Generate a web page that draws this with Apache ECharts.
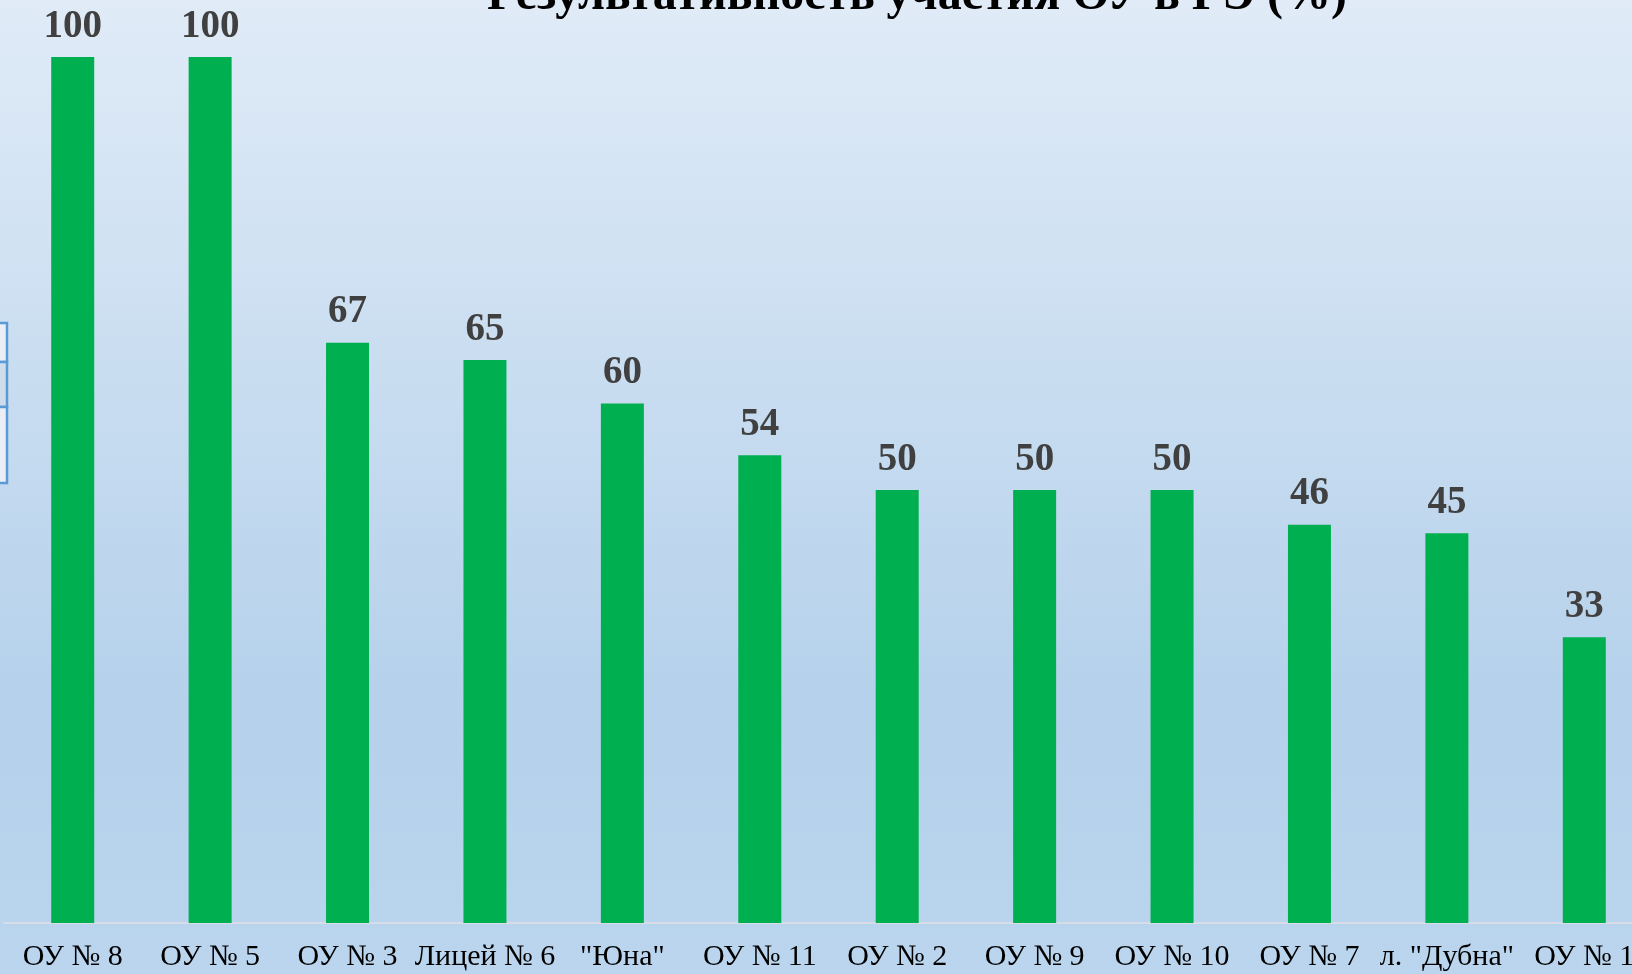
<!DOCTYPE html>
<html>
<head>
<meta charset="utf-8">
<style>
  html, body { margin: 0; padding: 0; overflow: hidden; width: 1632px; height: 974px; }
  #chart { width: 1660px; height: 974px; }
</style>
<script src="https://cdn.jsdelivr.net/npm/echarts@6/dist/echarts.min.js"></script>
</head>
<body>
<div id="chart"></div>
<script>
// Schools (categories) and their exam success rate, %
const categories = ['ОУ № 8', 'ОУ № 5', 'ОУ № 3', 'Лицей № 6', '"Юна"', 'ОУ № 11',
                    'ОУ № 2', 'ОУ № 9', 'ОУ № 10', 'ОУ № 7', 'л. "Дубна"', 'ОУ № 1'];
const results = [100, 100, 67, 65, 60, 54, 50, 50, 50, 46, 45, 33];
const titleText = 'Результативность участия ОУ в ГЭ (%)';

const chart = echarts.init(document.getElementById('chart'));
const serif = '"Liberation Serif", "Times New Roman", serif';

chart.setOption({
  backgroundColor: new echarts.graphic.LinearGradient(0, 0, 0, 1, [
    { offset: 0, color: '#e0ebf7' },
    { offset: 0.72, color: '#b5d1eb' },
    { offset: 1, color: '#bad5ed' }
  ]),
  title: {
    text: titleText,
    left: 912,
    textAlign: 'center',
    top: -32,
    textStyle: { fontFamily: serif, fontWeight: 'bold', fontSize: 48, color: '#000' }
  },
  grid: { left: 4, top: 57, right: 7, bottom: 51, containLabel: false },
  xAxis: {
    type: 'category',
    data: categories,
    axisLine: { lineStyle: { color: '#d6dde6', width: 2 } },
    axisTick: { show: false },
    axisLabel: {
      interval: 0, margin: 19, color: '#000',
      fontFamily: serif, fontSize: 30
    }
  },
  yAxis: {
    type: 'value', min: 0, max: 100,
    show: false
  },
  series: [{
    type: 'bar',
    data: results,
    barWidth: 43,
    itemStyle: { color: '#00b050' },
    label: {
      show: true, position: 'top', distance: 11,
      fontFamily: serif, fontWeight: 'bold', fontSize: 39, color: '#404040'
    }
  }],
  graphic: [
    // partial table edge at the left margin
    { type: 'rect', shape: { x: -20, y: 323, width: 27, height: 39 },
      style: { fill: '#e9eef7', stroke: '#5b9bd5', lineWidth: 2.5 } },
    { type: 'rect', shape: { x: -20, y: 362, width: 27, height: 45 },
      style: { fill: '#cfdcec', stroke: '#5b9bd5', lineWidth: 2.5 } },
    { type: 'rect', shape: { x: -20, y: 407, width: 27, height: 76 },
      style: { fill: '#e9eef7', stroke: '#5b9bd5', lineWidth: 2.5 } }
  ]
});
</script>
</body>
</html>
